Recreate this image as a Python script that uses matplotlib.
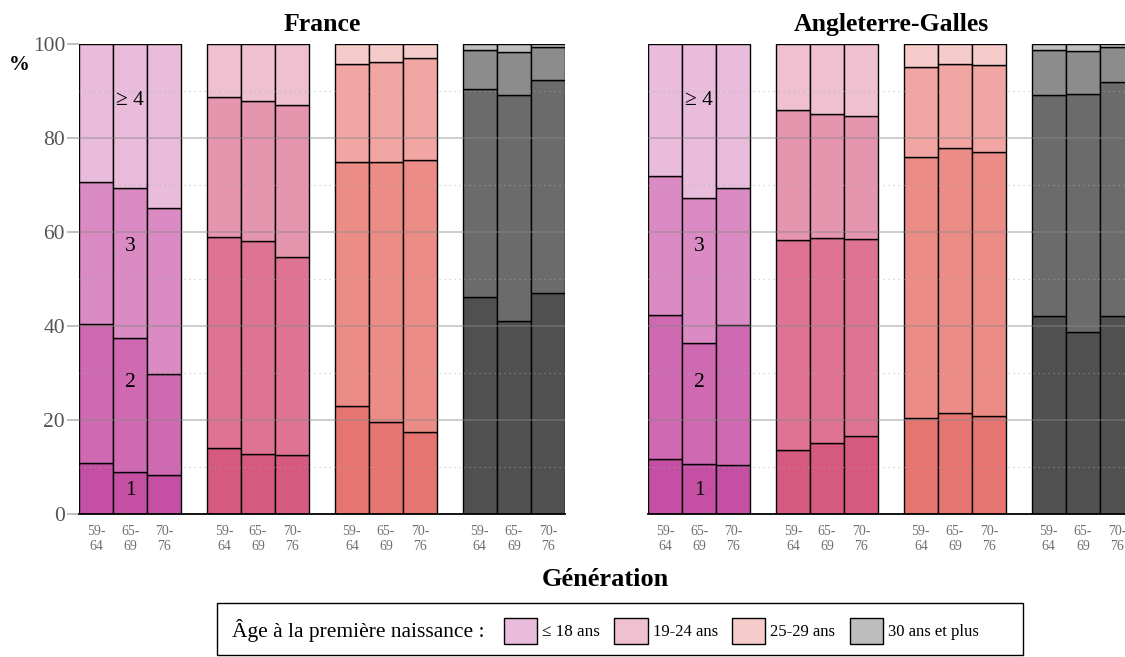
"""Stacked shares of women by number of children, by age at first birth and
generation, France vs England-Wales."""
import matplotlib

matplotlib.use("Agg")

import matplotlib.pyplot as plt  # noqa: E402
from matplotlib.patches import Patch, Rectangle  # noqa: E402

plt.rcParams["font.family"] = ["Liberation Serif", "DejaVu Serif"]

# --- data (% of women, segments: 1, 2, 3, >=4 children) ---
GENERATIONS = ["59-\n64", "65-\n69", "70-\n76"]
AGE_GROUPS = ["≤ 18 ans", "19-24 ans", "25-29 ans", "30 ans et plus"]
PARITY = ["1", "2", "3", "≥ 4"]

# rows: age group x generation, cols: parity 1, 2, 3, >=4
FRANCE = [
    [[10.8, 29.6, 30.3, 29.3], [8.9, 28.5, 31.9, 30.7], [8.3, 21.4, 35.5, 34.8]],
    [[14.0, 44.9, 29.8, 11.3], [12.7, 45.3, 29.9, 12.1], [12.6, 42.0, 32.4, 13.0]],
    [[23.0, 51.8, 20.9, 4.3], [19.6, 55.2, 21.4, 3.8], [17.5, 57.8, 21.8, 2.9]],
    [[46.2, 44.2, 8.3, 1.3], [41.1, 48.0, 9.1, 1.8], [47.0, 45.3, 7.1, 0.6]],
]
ENGLAND = [
    [[11.6, 30.7, 29.7, 28.0], [10.6, 25.7, 30.9, 32.8], [10.4, 29.7, 29.2, 30.7]],
    [[13.6, 44.7, 27.6, 14.1], [15.2, 43.5, 26.5, 14.8], [16.6, 41.8, 26.3, 15.3]],
    [[20.4, 55.6, 19.0, 5.0], [21.4, 56.5, 17.8, 4.3], [20.9, 56.1, 18.5, 4.5]],
    [[42.1, 47.0, 9.6, 1.3], [38.7, 50.6, 9.3, 1.4], [42.2, 49.6, 7.6, 0.6]],
]
PANELS = [("France", FRANCE), ("Angleterre-Galles", ENGLAND)]

# shades per age group, darkest (1 child) to lightest (>=4)
COLORS = [
    ["#C44FA3", "#CF69B1", "#DB8BC3", "#E9BCDC"],
    ["#D6597F", "#DF7393", "#E695AF", "#EFC1D0"],
    ["#E67470", "#EC8C86", "#F2A6A4", "#F6CCCA"],
    ["#505050", "#6B6B6B", "#8C8C8C", "#BDBDBD"],
]

LABEL_Y = [5, 28, 57, 88]  # in-bar parity labels (middle bar, first group)
GAP = 0.75

fig = plt.figure(figsize=(11.25, 6.57), dpi=100)
ax_pos = [[0.0702, 0.2177, 0.4320, 0.7154], [0.5760, 0.2177, 0.4320, 0.7154]]

for p, (title, data) in enumerate(PANELS):
    ax = fig.add_axes(ax_pos[p])
    xt, xl = [], []
    for g, group in enumerate(data):
        for i, shares in enumerate(group):
            x = g * (3 + GAP) + i + 0.5
            bottom = 0.0
            for k, v in enumerate(shares):
                ax.bar(x, v, bottom=bottom, width=1.0, color=COLORS[g][k],
                       edgecolor="black", linewidth=1.0, zorder=2)
                bottom += v
            xt.append(x)
            xl.append(GENERATIONS[i])
    # grid drawn over the bars, semi-transparent like the reference
    for y in (20, 40, 60, 80):
        ax.axhline(y, color="#888888", alpha=0.45, lw=1.3, zorder=3)
    for y in (10, 30, 50, 70, 90):
        ax.axhline(y, color="#aaaaaa", alpha=0.6, lw=0.9, ls=(0, (1, 3)), zorder=3)

    for k, lab in enumerate(PARITY):
        ax.text(1.5, LABEL_Y[k], lab, ha="center", va="center", fontsize=15.5,
                color="black", zorder=4)

    ax.set_xlim(0, 4 * 3 + 3 * GAP)
    ax.set_ylim(0, 100)
    ax.set_xticks(xt)
    ax.set_xticklabels(xl, fontsize=10, color="#707070", linespacing=1.2)
    ax.tick_params(axis="x", length=0, pad=8)
    for s in ("top", "right", "left"):
        ax.spines[s].set_visible(False)
    ax.spines["bottom"].set_linewidth(1.3)
    ax.spines["bottom"].set_zorder(5)
    ax.set_title(title, fontsize=18.5, fontweight="bold", pad=9)
    if p == 0:
        ax.set_yticks([0, 20, 40, 60, 80, 100])
        ax.tick_params(axis="y", length=9, color="#bbbbbb", width=1.3,
                       labelsize=15.5, labelcolor="#555555", pad=1)
        ax.text(-0.123, 0.955, "%", transform=ax.transAxes, fontsize=15,
                fontweight="bold", ha="center", va="center")
    else:
        ax.set_yticks([])

fig.text(0.538, 0.118, "Génération", fontsize=19, fontweight="bold",
         ha="center", va="center")

# legend box
fig.patches.append(Rectangle((217 / 1125, 2 / 657), 806 / 1125, 52 / 657,
                             transform=fig.transFigure, fill=False,
                             edgecolor="black", linewidth=1.0))
fig.text(232 / 1125, 27 / 657, "Âge à la première naissance :", fontsize=15.5,
         ha="left", va="center")
handles = [Patch(facecolor=COLORS[g][3], edgecolor="black", linewidth=1.0,
                 label=AGE_GROUPS[g]) for g in range(4)]
leg = fig.legend(handles=handles, loc="center left", ncol=4, frameon=False,
                 bbox_to_anchor=(504 / 1125, 26 / 657), fontsize=12,
                 handlelength=2.0, handleheight=2.0, handletextpad=0.3,
                 columnspacing=0.85, borderaxespad=0, borderpad=0)
leg.get_texts()[0].set_fontsize(12.3)

fig.savefig("out.png", dpi=100)
